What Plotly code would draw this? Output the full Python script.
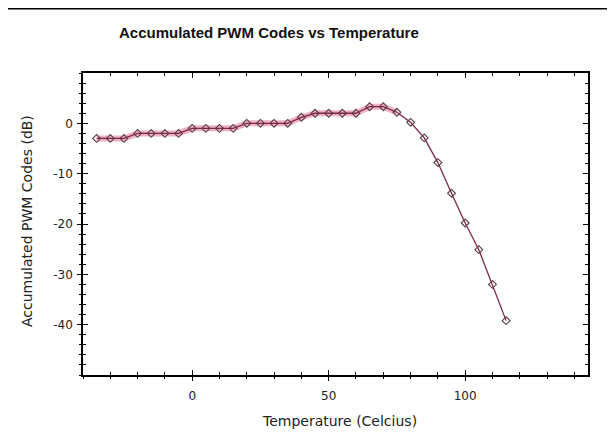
import plotly.graph_objects as go

temperature = [-35, -30, -25, -20, -15, -10, -5, 0, 5, 10, 15, 20, 25, 30, 35, 40,
               45, 50, 55, 60, 65, 70, 75, 80, 85, 90, 95, 100, 105, 110, 115]
pwm_codes = [-3, -3, -3, -2, -2, -2, -2, -1, -1, -1, -1, 0, 0, 0, 0, 1.2,
             2, 2, 2, 2, 3.3, 3.3, 2.2, 0.2, -2.9, -7.8, -13.9, -19.8, -25.1, -32, -39.2]
x_ticks = [0, 50, 100]
x_tick_labels = ["0", "50", "100"]
y_ticks = [-40, -30, -20, -10, 0]
y_tick_labels = ["-40", "-30", "-20", "-10", "0"]

title_text = "Accumulated PWM Codes vs Temperature"
x_title = "Temperature (Celcius)"
y_title = "Accumulated PWM Codes (dB)"

# page body adds an 8px offset; figure sized to fit the window
OFF = 8
W, H = 615 - OFF, 435 - OFF
# target plot area in window pixels
L, R, T, B = 83, 588, 73, 375

def px(x):
    return (x - L) / (R - L)

def py(y):
    return (B - y) / (B - T)

n_flat = 23  # pink-glow portion of the curve

fig = go.Figure()
fig.add_trace(go.Scatter(
    x=temperature[:n_flat], y=pwm_codes[:n_flat], mode="lines",
    line=dict(color="rgba(220,80,120,0.45)", width=6), hoverinfo="skip", showlegend=False))
fig.add_trace(go.Scatter(
    x=temperature, y=pwm_codes, mode="lines+markers",
    line=dict(color="#7a2a45", width=1.3),
    marker=dict(symbol="diamond-open", size=6, color="#5a3a45", line=dict(width=1.1)),
    showlegend=False))
# overlay axis carrier (invisible) for crossing ticks
fig.add_trace(go.Scatter(x=[0], y=[0], xaxis="x2", yaxis="y2", mode="markers",
                         marker=dict(opacity=0), hoverinfo="skip", showlegend=False))

fig.add_hline(y=0, line=dict(color="black", width=1.5))

axis_font = dict(family="DejaVu Sans", size=12, color="#222")
fig.update_layout(
    width=W, height=H,
    margin=dict(l=L - OFF, r=W - (R - OFF), t=T - OFF, b=H - (B - OFF)),
    paper_bgcolor="white", plot_bgcolor="white",
    xaxis=dict(range=[-40, 145], tickvals=x_ticks, ticktext=x_tick_labels,
               ticks="inside", ticklen=5, ticklabelstandoff=9,
               tickcolor="black", tickwidth=1.2, showline=True, linecolor="black",
               linewidth=1.5, mirror="ticks", showgrid=False, zeroline=False,
               tickfont=axis_font,
               minor=dict(dtick=10, tick0=0, ticks="inside", ticklen=3, tickcolor="black")),
    yaxis=dict(range=[-50, 10], tickvals=y_ticks, ticktext=y_tick_labels,
               ticks="inside", ticklen=5, ticklabelstandoff=6,
               tickcolor="black", tickwidth=1.2, showline=True, linecolor="black",
               linewidth=1.5, mirror="ticks", showgrid=False, zeroline=False,
               tickfont=axis_font,
               minor=dict(dtick=2, tick0=0, ticks="inside", ticklen=3, tickcolor="black")),
    xaxis2=dict(range=[-40, 145], overlaying="x", side="bottom", tickvals=x_ticks,
                ticks="outside", ticklen=5, tickcolor="black", tickwidth=1.2,
                showticklabels=False, showline=False, showgrid=False, zeroline=False,
                minor=dict(dtick=10, tick0=0, ticks="outside", ticklen=3, tickcolor="black")),
    yaxis2=dict(range=[-50, 10], overlaying="y", side="left", tickvals=y_ticks,
                ticks="outside", ticklen=5, tickcolor="black", tickwidth=1.2,
                showticklabels=False, showline=False, showgrid=False, zeroline=False,
                minor=dict(dtick=2, tick0=0, ticks="outside", ticklen=3, tickcolor="black")),
    annotations=[
        dict(text="<b>" + title_text + "</b>", x=px(269), y=py(32), xref="paper", yref="paper",
             showarrow=False, font=dict(family="Liberation Sans", size=15, color="#111"),
             xanchor="center", yanchor="middle"),
        dict(text=x_title, x=px(339), y=py(421), xref="paper", yref="paper",
             showarrow=False, font=dict(family="DejaVu Sans", size=14, color="#222"),
             xanchor="center", yanchor="middle"),
        dict(text=y_title, x=px(27), y=py(221), xref="paper", yref="paper", textangle=-90,
             showarrow=False, font=dict(family="DejaVu Sans", size=14, color="#222"),
             xanchor="center", yanchor="middle"),
    ],
    shapes=[
        dict(type="line", xref="paper", yref="paper", x0=px(8), x1=px(615), y0=py(8.7), y1=py(8.7),
             line=dict(color="black", width=1.5)),
    ],
)

fig.write_html("out.html")
